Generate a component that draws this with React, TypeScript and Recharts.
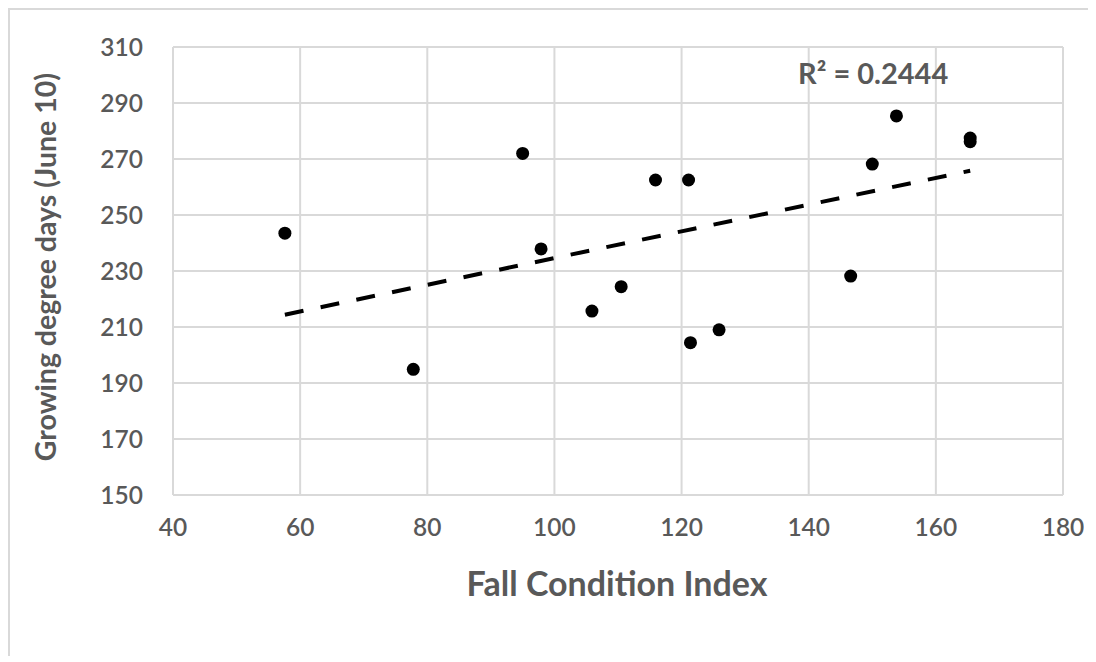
import React from "react";
import { ScatterChart, Scatter, XAxis, YAxis, CartesianGrid } from "recharts";

// Fall Condition Index vs growing degree days
const fallIndex = [57.6, 77.8, 95.0, 97.9, 105.9, 110.5, 115.9, 121.1, 121.4, 125.9, 146.6, 150.0, 153.8, 165.4, 165.4];
const gdd = [243.5, 194.9, 272.0, 237.9, 215.7, 224.4, 262.5, 262.5, 204.4, 209.0, 228.2, 268.2, 285.4, 277.5, 276.2];

// linear trend line end points
const trendX = [57.6, 165.4];
const trendY = [214.4, 265.8];

const xTicks = [40, 60, 80, 100, 120, 140, 160, 180];
const yTicks = [150, 170, 190, 210, 230, 250, 270, 290, 310];

const points = fallIndex.map((x, i) => ({ x, y: gdd[i] }));
const trend = trendX.map((x, i) => ({ x, y: trendY[i] }));

const GRAY = "#595959";
const GRID = "#d9d9d9";
const FONT = "Lato, 'Open Sans', sans-serif";

const Dot = (props: any) => <circle cx={props.cx} cy={props.cy} r={6.5} fill="#000" />;

export default function App() {
  return (
    <div
      style={{
        position: "relative",
        width: 1078,
        height: 646,
        borderLeft: `2px solid ${GRID}`,
        borderTop: `2px solid ${GRID}`,
        fontFamily: FONT,
      }}
    >
      <div style={{ position: "absolute", left: -2, top: -2 }}>
        <ScatterChart
          width={1076}
          height={640}
          margin={{ top: 39, right: 21, bottom: 93, left: 85 }}
        >
          <CartesianGrid stroke={GRID} strokeWidth={2} />
          <XAxis
            type="number"
            dataKey="x"
            domain={[40, 180]}
            ticks={xTicks}
            allowDataOverflow
            height={60}
            tickLine={false}
            tickSize={0}
            tickMargin={24}
            axisLine={{ stroke: GRID, strokeWidth: 2 }}
            tick={{ fill: GRAY, fontSize: 24.5, fontFamily: FONT, fontWeight: 600 }}
          />
          <YAxis
            type="number"
            dataKey="y"
            domain={[150, 310]}
            ticks={yTicks}
            allowDataOverflow
            width={80}
            tickLine={false}
            tickSize={0}
            tickMargin={30}
            axisLine={{ stroke: GRID, strokeWidth: 2 }}
            tick={{ fill: GRAY, fontSize: 24.5, fontFamily: FONT, fontWeight: 600 }}
          />
          <Scatter
            data={trend}
            line={{ stroke: "#000", strokeWidth: 4, strokeDasharray: "19 17.5" }}
            shape={() => <g />}
            isAnimationActive={false}
          />
          <Scatter data={points} fill="#000" isAnimationActive={false} shape={Dot} />
        </ScatterChart>
      </div>
      <div
        style={{
          position: "absolute",
          left: 35,
          top: 257,
          transform: "translate(-50%, -50%) rotate(-90deg)",
          whiteSpace: "nowrap",
          fontSize: 28.5,
          fontWeight: 700,
          color: GRAY,
          lineHeight: 1,
        }}
      >
        Growing degree days (June 10)
      </div>
      <div
        style={{
          position: "absolute",
          left: 607,
          top: 573,
          transform: "translate(-50%, -50%)",
          whiteSpace: "nowrap",
          fontSize: 34,
          fontWeight: 700,
          color: GRAY,
          lineHeight: 1,
        }}
      >
        Fall Condition Index
      </div>
      <div
        style={{
          position: "absolute",
          left: 788,
          top: 48,
          whiteSpace: "nowrap",
          fontSize: 29,
          fontWeight: 700,
          color: GRAY,
          lineHeight: 1,
        }}
      >
        R² = 0.2444
      </div>
    </div>
  );
}
